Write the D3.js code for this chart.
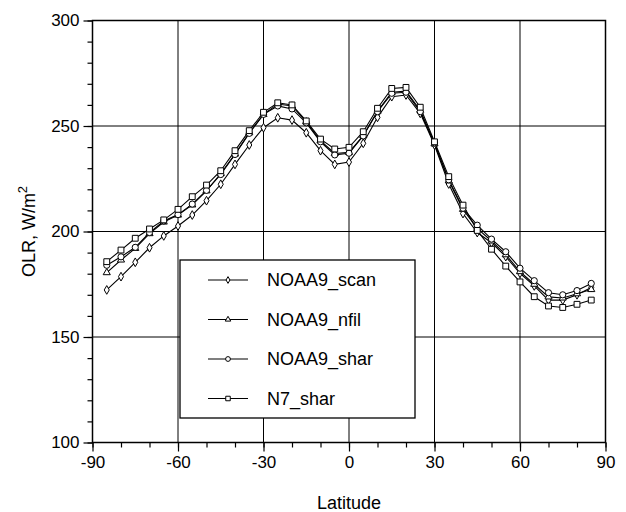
<!DOCTYPE html>
<html>
<head>
<meta charset="utf-8">
<script src="https://cdn.jsdelivr.net/npm/d3@7"></script>
<style>
  body { margin: 0; background: #fff; }
  text { font-family: "Liberation Sans", Arial, sans-serif; fill: #000; }
</style>
</head>
<body>
<div id="chart"></div>
<script>
// latitude of each point (every 5 degrees)
const lats = [-85,-80,-75,-70,-65,-60,-55,-50,-45,-40,-35,-30,-25,-20,-15,-10,-5,0,
              5,10,15,20,25,30,35,40,45,50,55,60,65,70,75,80,85];

const noaa9Scan = [172.3,178.6,185.4,192.3,197.9,202.6,207.8,214.6,222.4,231.8,241,249.2,253.9,252.8,246.8,238.3,231.8,232.9,
                   241.8,254.1,263.9,264.7,256,241,222.5,208.5,199.5,194.7,188.1,180.2,174.2,167.5,167.5,170,173.5];
const noaa9Nfil = [180.5,186.5,192,199,204.5,207.8,212.6,219.3,227.5,236.7,246.8,255.5,260.4,259.5,252,243,237,237.5,
                   245.5,257,266,266.5,257.5,241.5,224,210.5,201.5,195.5,189,181,175,169,168.5,170.5,172.5];
const noaa9Shar = [184,188,192.5,199.5,205,208,213,219.5,227,236.5,246.5,255.5,259.5,258.1,251.5,242.5,236.3,237.1,
                   245.3,256.8,265.5,266,256.8,242,224.5,211,203,196.4,190.4,182.6,176.7,171,170,172,175.4];
const n7Shar    = [185.7,191.2,196.8,201.2,205.5,210.5,216.5,222,228.8,238.3,247.8,256.5,261,260,252.4,243.8,239.1,239.9,
                   247.3,258.4,267.8,268.3,258.9,242.5,226,212.5,200.5,191.6,183.6,176.1,169.1,164.7,164,165.5,167.5];

const seriesNames = ["NOAA9_scan", "NOAA9_nfil", "NOAA9_shar", "N7_shar"];
const xTicks = [-90, -60, -30, 0, 30, 60, 90];
const yTicks = [100, 150, 200, 250, 300];

const margin = {top: 20.5, right: 20.5, bottom: 69.5, left: 92.5},
    width = 626 - margin.left - margin.right,
    height = 512 - margin.top - margin.bottom;

const svg = d3.select("#chart")
  .append("svg")
    .attr("width", 626)
    .attr("height", 512)
  .append("g")
    .attr("transform", `translate(${margin.left},${margin.top})`);

const x = d3.scaleLinear().domain([-90, 90]).range([0, width]);
const y = d3.scaleLinear().domain([100, 300]).range([height, 0]);

// grid lines at the major ticks
svg.append("g")
  .selectAll("line")
  .data(xTicks.slice(1, -1))
  .join("line")
    .attr("x1", d => x(d)).attr("x2", d => x(d))
    .attr("y1", 0).attr("y2", height)
    .attr("stroke", "#000").attr("stroke-width", 1);
svg.append("g")
  .selectAll("line")
  .data(yTicks.slice(1, -1))
  .join("line")
    .attr("y1", d => y(d)).attr("y2", d => y(d))
    .attr("x1", 0).attr("x2", width)
    .attr("stroke", "#000").attr("stroke-width", 1);

// minor ticks
svg.append("g")
  .attr("transform", `translate(0,${height})`)
  .call(d3.axisBottom(x).tickValues(d3.range(-90, 91, 10)).tickSize(5).tickFormat(""))
  .call(g => g.select(".domain").remove());
svg.append("g")
  .call(d3.axisLeft(y).tickValues(d3.range(100, 301, 10)).tickSize(5).tickFormat(""))
  .call(g => g.select(".domain").remove());

// major axes (plain hyphen for negatives, like the original)
svg.append("g")
  .attr("transform", `translate(0,${height})`)
  .call(d3.axisBottom(x).tickValues(xTicks).tickSize(9).tickPadding(4).tickFormat(d => String(d)))
  .call(g => g.select(".domain").remove())
  .selectAll("text").style("font-size", "17px");
svg.append("g")
  .call(d3.axisLeft(y).tickValues(yTicks).tickSize(9).tickPadding(4).tickFormat(d => String(d)))
  .call(g => g.select(".domain").remove())
  .selectAll("text").style("font-size", "17px");
svg.selectAll(".tick line").attr("stroke-width", 1.2);

// plot frame
svg.append("rect")
  .attr("width", width).attr("height", height)
  .attr("fill", "none").attr("stroke", "#000").attr("stroke-width", 1.5);

// axis titles
svg.append("text")
  .attr("x", width / 2).attr("y", height + 66)
  .attr("text-anchor", "middle")
  .style("font-size", "18px")
  .text("Latitude");
const yt = svg.append("text")
  .attr("transform", `translate(-58,${height / 2}) rotate(-90)`)
  .attr("text-anchor", "middle")
  .style("font-size", "18px");
yt.append("tspan").text("OLR, W/m");
yt.append("tspan").attr("dy", -8).style("font-size", "13px").text("2");

const dataReady = [
  {name: seriesNames[0], values: noaa9Scan, symbol: d3.symbolDiamond, size: 22},
  {name: seriesNames[1], values: noaa9Nfil, symbol: d3.symbolTriangle, size: 22},
  {name: seriesNames[2], values: noaa9Shar, symbol: d3.symbolCircle, size: 30},
  {name: seriesNames[3], values: n7Shar, symbol: d3.symbolSquare, size: 34}
];

const line = d3.line()
  .x((d, i) => x(lats[i]))
  .y(d => y(d));

svg.selectAll("myLines")
  .data(dataReady)
  .join("path")
    .attr("d", d => line(d.values))
    .attr("fill", "none")
    .attr("stroke", "#000")
    .attr("stroke-width", 1.1);

svg.selectAll("myDots")
  .data(dataReady)
  .join("g")
  .each(function(s) {
    d3.select(this).selectAll("path")
      .data(s.values)
      .join("path")
        .attr("d", d3.symbol().type(s.symbol).size(s.size))
        .attr("transform", (d, i) => `translate(${x(lats[i])},${y(d)})`)
        .attr("fill", "#fff")
        .attr("stroke", "#000")
        .attr("stroke-width", 1);
  });

// legend box
const legend = svg.append("g")
  .attr("transform", `translate(${180 - margin.left},${260 - margin.top})`);
legend.append("rect")
  .attr("width", 235).attr("height", 158)
  .attr("fill", "#fff").attr("stroke", "#000").attr("stroke-width", 1.3);
const rows = legend.selectAll("g.row")
  .data(dataReady)
  .join("g")
    .attr("class", "row")
    .attr("transform", (d, i) => `translate(0,${20 + i * 39.5})`);
rows.append("line")
  .attr("x1", 28).attr("x2", 68)
  .attr("stroke", "#000").attr("stroke-width", 1.1);
rows.append("path")
  .attr("transform", "translate(48,0)")
  .attr("d", d => d3.symbol().type(d.symbol).size(d.size * 0.6)())
  .attr("fill", "#fff").attr("stroke", "#000");
rows.append("text")
  .attr("x", 87).attr("dy", "0.35em")
  .style("font-size", "18px")
  .text(d => d.name);
</script>
</body>
</html>
